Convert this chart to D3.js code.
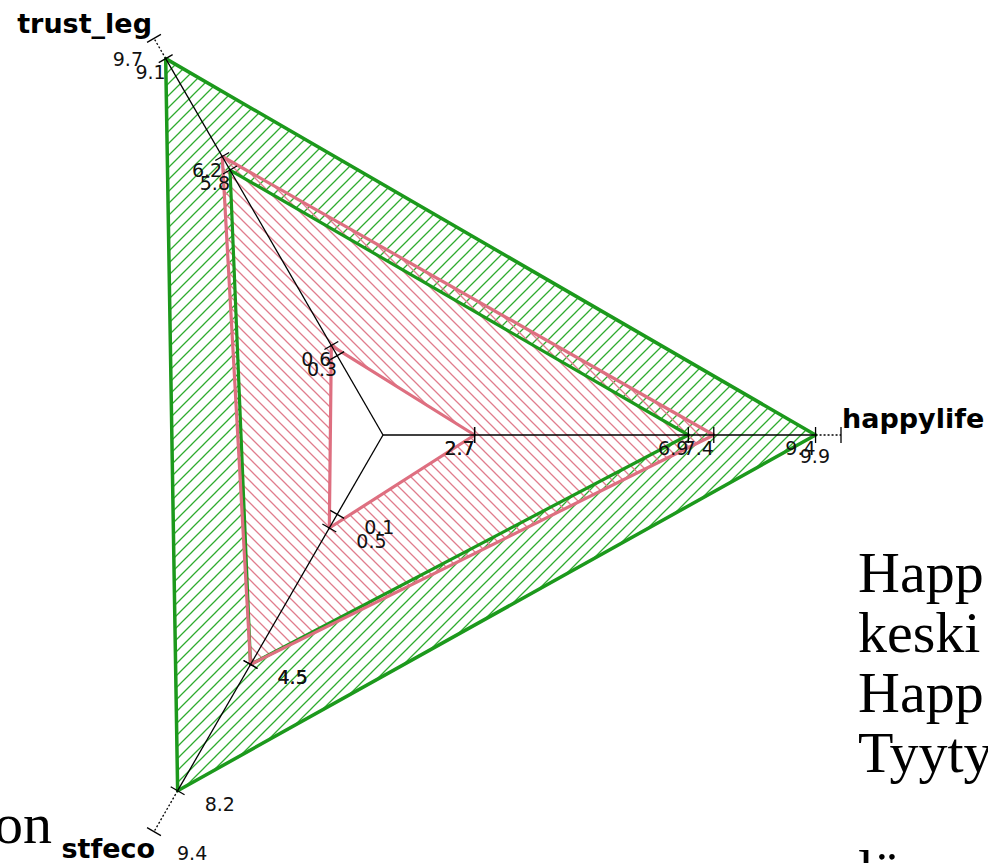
<!DOCTYPE html>
<html><head><meta charset="utf-8">
<script src="https://cdn.jsdelivr.net/npm/d3@7"></script>
<style>html,body{margin:0;padding:0;background:#fff;overflow:hidden}</style>
</head><body>
<script>
// ---- data ----
const axes      = ["trust_leg", "happylife", "stfeco"];
const axisMin   = [0.3, 2.7, 0.1];
const axisMax   = [9.7, 9.9, 9.4];
const greenMax  = [9.1, 9.4, 8.2];
const greenMin  = [5.8, 6.9, 4.5];
const pinkMax   = [6.2, 7.4, 4.5];
const pinkMin   = [0.6, 2.7, 0.5];
const slideLeft  = ["on"];
const slideRight = ["Happ", "keski", "Happ", "Tyyty", "lä"];

// ---- layout ----
const W = 988, H = 863, cx = 383, cy = 435, R = 458;
const GREEN = "#1c991c", PINK = "#de6f80";

const svg = d3.select("body").append("svg").attr("width", W).attr("height", H);
svg.append("rect").attr("width", W).attr("height", H).attr("fill", "#fff");

const defs = svg.append("defs");
function hatch(id, size, color, dir) {
  const p = defs.append("pattern").attr("id", id).attr("patternUnits", "userSpaceOnUse")
    .attr("width", size).attr("height", size);
  const s = size;
  const d = dir === "/"
    ? `M0,${s} L${s},0 M${-s/2},${s/2} L${s/2},${-s/2} M${s/2},${s*1.5} L${s*1.5},${s/2}`
    : `M0,0 L${s},${s} M${-s/2},${s/2} L${s/2},${s*1.5} M${s/2},${-s/2} L${s*1.5},${s/2}`;
  p.append("path").attr("d", d).attr("stroke", color).attr("stroke-width", 1.3).attr("fill", "none");
}
hatch("hG", 12, "#2fab2f", "/");
hatch("hP", 11, "#e07d8d", "\\");

// per-axis scales
const scales = axes.map((a, i) => {
  const lo = axisMin[i], hi = axisMax[i];
  return d3.scaleLinear().domain([lo - 0.25 * (hi - lo), hi]).range([0, R]);
});
const angle = i => (-120 + 120 * i) * Math.PI / 180;
const pt = (i, v) => {
  const r = scales[i](v), a = angle(i);
  return [cx + r * Math.cos(a), cy + r * Math.sin(a)];
};
const poly = vals => "M" + vals.map((v, i) => pt(i, v).join(",")).join("L") + "Z";

// bands
svg.append("path").attr("d", poly(greenMax) + poly(greenMin))
  .attr("fill", "url(#hG)").attr("fill-rule", "evenodd");
svg.append("path").attr("d", poly(pinkMax) + poly(pinkMin))
  .attr("fill", "url(#hP)").attr("fill-rule", "evenodd");

// outlines
[[greenMax, GREEN, 3.5], [greenMin, GREEN, 3.2], [pinkMax, PINK, 3.2], [pinkMin, PINK, 3.2]].forEach(([vals, c, w]) => {
  svg.append("path").attr("d", poly(vals)).attr("fill", "none")
    .attr("stroke", c).attr("stroke-width", w).attr("stroke-linejoin", "round");
});

// axes
axes.forEach((name, i) => {
  const [x0, y0] = [cx, cy];
  const [x1, y1] = pt(i, greenMax[i]);
  const [x2, y2] = pt(i, axisMax[i]);
  svg.append("line").attr("x1", x0).attr("y1", y0).attr("x2", x1).attr("y2", y1)
    .attr("stroke", "#000").attr("stroke-width", 1.3);
  svg.append("line").attr("x1", x1).attr("y1", y1).attr("x2", x2).attr("y2", y2)
    .attr("stroke", "#000").attr("stroke-width", 1.3).attr("stroke-dasharray", "2,2");
  const a = angle(i), px = -Math.sin(a), py = Math.cos(a);
  const tickVals = [axisMin[i], pinkMin[i], pinkMax[i], greenMin[i], greenMax[i], axisMax[i]];
  tickVals.forEach(v => {
    const [x, y] = pt(i, v);
    svg.append("line").attr("x1", x - 8 * px).attr("y1", y - 8 * py)
      .attr("x2", x + 8 * px).attr("y2", y + 8 * py)
      .attr("stroke", "#000").attr("stroke-width", 1.3);
  });
  // value labels
  const start = i === 2;
  const labVals = [axisMin[i], pinkMin[i], pinkMax[i], greenMin[i], greenMax[i]];
  labVals.forEach(v => {
    const [x, y] = pt(i, v);
    svg.append("text").attr("x", start ? x + 27 : x).attr("y", y + 20)
      .attr("text-anchor", start ? "start" : "end")
      .attr("font-family", "DejaVu Sans").attr("font-size", 19).attr("fill", "#111")
      .text(d3.format(".1f")(v));
  });
  {
    const [x, y] = pt(i, axisMax[i]);
    svg.append("text").attr("x", start ? x + 23 : x - 11).attr("y", y + 28)
      .attr("text-anchor", start ? "start" : "end")
      .attr("font-family", "DejaVu Sans").attr("font-size", 19).attr("fill", "#111")
      .text(d3.format(".1f")(axisMax[i]));
  }
  // axis name
  const [ex, ey] = pt(i, axisMax[i]);
  const nameT = svg.append("text").attr("font-family", "DejaVu Sans").attr("font-weight", "bold")
    .attr("font-size", 27).attr("fill", "#000").text(name);
  if (i === 0) nameT.attr("x", ex - 2).attr("y", ey - 5).attr("text-anchor", "end");
  else if (i === 1) nameT.attr("x", ex + 1).attr("y", ey - 7).attr("text-anchor", "start");
  else nameT.attr("x", ex + 1).attr("y", ey + 26).attr("text-anchor", "end");
});

// slide text around the chart
svg.append("text").attr("x", 52).attr("y", 843).attr("text-anchor", "end")
  .attr("font-family", "Liberation Serif").attr("font-size", 58).attr("fill", "#000")
  .text(slideLeft[0]);
slideRight.forEach((t, k) => {
  svg.append("text").attr("x", 858).attr("y", k < 4 ? 592 + 60 * k : 890)
    .attr("font-family", "Liberation Serif").attr("font-size", 58).attr("fill", "#000")
    .text(t);
});
</script>
</body></html>
